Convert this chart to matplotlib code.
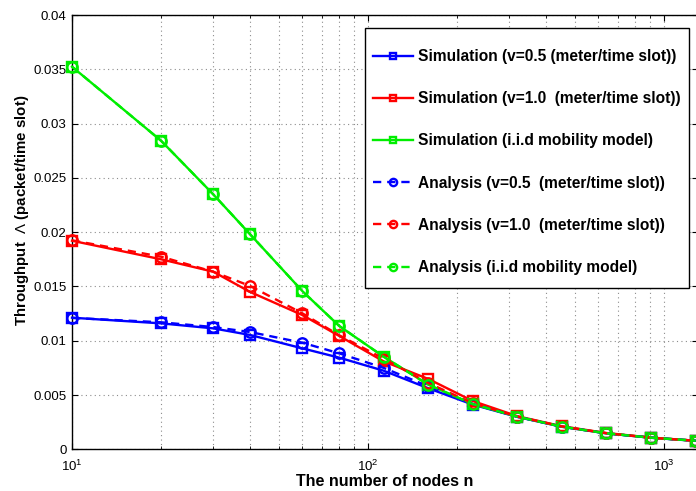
import matplotlib
matplotlib.use('Agg')
import matplotlib.pyplot as plt
from matplotlib.ticker import LogLocator, FixedLocator, NullFormatter
from matplotlib.patches import Rectangle
import numpy as np

# numero de nos
n = [10, 20, 30, 40, 60, 80, 113, 160, 226, 320, 453, 640, 905, 1280]

sim_v05 = [0.01212, 0.01160, 0.01114, 0.01053, 0.00930, 0.00844, 0.00724, 0.00562, 0.00412, 0.00298, 0.00207, 0.00147, 0.00106, 0.00078]
sim_v10 = [0.01921, 0.01750, 0.01636, 0.01449, 0.01237, 0.01044, 0.00810, 0.00648, 0.00445, 0.00305, 0.00212, 0.00150, 0.00108, 0.00079]
sim_iid = [0.03524, 0.02842, 0.02349, 0.01980, 0.01458, 0.01136, 0.00853, 0.00595, 0.00417, 0.00300, 0.00208, 0.00147, 0.00107, 0.00079]

ana_v05 = [0.01210, 0.01170, 0.01126, 0.01080, 0.00982, 0.00884, 0.00750, 0.00580, 0.00418, 0.00300, 0.00208, 0.00147, 0.00107, 0.00079]
ana_v10 = [0.01925, 0.01774, 0.01636, 0.01504, 0.01253, 0.01050, 0.00835, 0.00610, 0.00425, 0.00302, 0.00210, 0.00148, 0.00107, 0.00079]
ana_iid = [0.03524, 0.02842, 0.02349, 0.01980, 0.01458, 0.01136, 0.00853, 0.00595, 0.00417, 0.00300, 0.00208, 0.00147, 0.00107, 0.00079]

labels = ['Simulation (v=0.5 (meter/time slot))',
          'Simulation (v=1.0  (meter/time slot))',
          'Simulation (i.i.d mobility model)',
          'Analysis (v=0.5  (meter/time slot))',
          'Analysis (v=1.0  (meter/time slot))',
          'Analysis (i.i.d mobility model)']

yticks = [0, 0.005, 0.01, 0.015, 0.02, 0.025, 0.03, 0.035, 0.04]
ytick_labels = ['0', '0.005', '0.01', '0.015', '0.02', '0.025', '0.03', '0.035', '0.04']

plt.rcParams['font.family'] = ['Liberation Sans', 'DejaVu Sans']
plt.rcParams['mathtext.fontset'] = 'custom'
plt.rcParams['mathtext.rm'] = 'Liberation Sans'
plt.rcParams['mathtext.it'] = 'Liberation Sans:italic'
plt.rcParams['mathtext.bf'] = 'Liberation Sans:bold'

W, H = 696, 491
fig = plt.figure(figsize=(W / 100, H / 100), dpi=100)
ax = fig.add_axes([72 / W, 41.7 / H, 626 / W, 434.3 / H])

cores = ['#0000ff', '#ff0000', '#00ee00']
for dados, cor, lab in zip([sim_v05, sim_v10, sim_iid], cores, labels[:3]):
    ax.plot(n, dados, '-', color=cor, lw=1.7, marker='s', ms=6.5, mfc='none', mew=1.7,
            label=lab, clip_on=False, zorder=3)
for dados, cor, lab in zip([ana_v05, ana_v10, ana_iid], cores, labels[3:]):
    ax.plot(n, dados, '--', color=cor, lw=1.7, marker='o', ms=7.5, mfc='none', mew=1.7,
            dashes=(3.5, 2.5), label=lab, clip_on=False, zorder=3)

ax.set_xscale('log')
ax.set_xlim(10, 1305)
ax.set_ylim(0, 0.04)
ax.yaxis.set_major_locator(FixedLocator(yticks))
ax.set_yticklabels(ytick_labels)
ax.xaxis.set_major_locator(LogLocator(base=10))
ax.xaxis.set_minor_locator(LogLocator(base=10, subs=np.arange(2, 10)))
ax.xaxis.set_minor_formatter(NullFormatter())

ax.tick_params(which='both', direction='in', top=True, right=True, labelsize=9.5)
ax.tick_params(axis='x', which='both', pad=7)
ax.tick_params(axis='y', which='both', pad=4)
ax.tick_params(which='major', length=4, width=0.8)
ax.tick_params(which='minor', length=2.5, width=0.6)
ax.grid(True, which='major', linestyle=(0, (1, 3)), color='0.55', lw=0.8)
ax.grid(True, which='minor', axis='x', linestyle=(0, (1, 3)), color='0.55', lw=0.8)
ax.set_axisbelow(True)
for s in ax.spines.values():
    s.set_linewidth(1.0)

ax.set_xlabel('The number of nodes n', fontsize=11.5, fontweight='bold', labelpad=0)
ax.set_ylabel('Throughput  $\\Lambda$ (packet/time slot)', fontsize=10.8, fontweight='bold')
ax.yaxis.set_label_coords(-0.066, 0.551)

# caixa da legenda desenhada a parte
caixa = Rectangle((365 / W, 1 - 288 / H), 324 / W, 260 / H, transform=fig.transFigure,
                  facecolor='white', edgecolor='black', lw=1.0, zorder=4, clip_on=False)
ax.add_patch(caixa)

leg = ax.legend(loc='upper left', bbox_to_anchor=(366 / W, 1 - 42 / H), bbox_transform=fig.transFigure,
                prop={'weight': 'bold', 'size': 11.2}, frameon=False,
                labelspacing=1.75, handlelength=2.6, handletextpad=0.3, borderpad=0.45, markerscale=0.7,
                borderaxespad=0)
leg.set_zorder(5)

plt.savefig('out.png', dpi=100)
